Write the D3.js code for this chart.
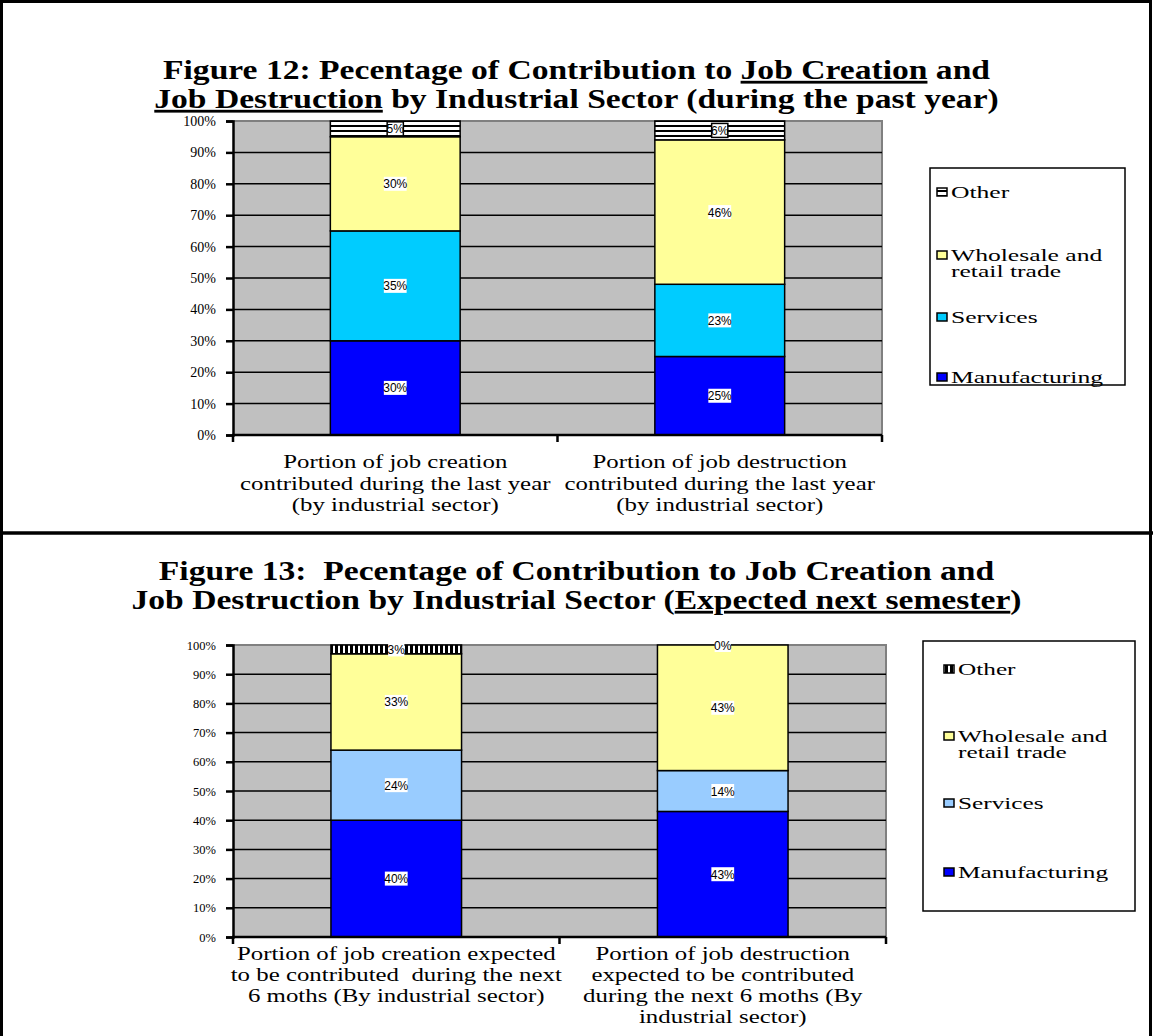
<!DOCTYPE html>
<html>
<head>
<meta charset="utf-8">
<script src="https://cdn.jsdelivr.net/npm/d3@7"></script>
<style>
  body { margin: 0; background: #fff; }
  svg { display: block; }
  text { white-space: pre; }
</style>
</head>
<body>
<svg id="chart" width="1153" height="1036"></svg>
<script>
// ---- data ----
const seriesNames = ["Manufacturing", "Services", "Wholesale and retail trade", "Other"];
const legendOrder = ["Other", "Wholesale and retail trade", "Services", "Manufacturing"];
const yTickValues = [0, 10, 20, 30, 40, 50, 60, 70, 80, 90, 100];

// Figure 12: during the past year
const fig12TitleLines = [
  [["Figure 12: Pecentage of Contribution to ", false], ["Job Creation", true], [" and", false]],
  [["Job Destruction", true], [" by Industrial Sector (during the past year)", false]]
];
const fig12Categories = [
  ["Portion of job creation", "contributed during the last year", "(by industrial sector)"],
  ["Portion of job destruction", "contributed during the last year", "(by industrial sector)"]
];
const fig12Manufacturing = [30, 25];
const fig12Services = [35, 23];
const fig12Wholesale = [30, 46];
const fig12Other = [5, 6];

// Figure 13: expected next semester
const fig13TitleLines = [
  [["Figure 13:  Pecentage of Contribution to Job Creation and", false]],
  [["Job Destruction by Industrial Sector (", false], ["Expected next semester", true], [")", false]]
];
const fig13Categories = [
  ["Portion of job creation expected", "to be contributed  during the next", "6 moths (By industrial sector)"],
  ["Portion of job destruction", "expected to be contributed", "during the next 6 moths (By", "industrial sector)"]
];
const fig13Manufacturing = [40, 43];
const fig13Services = [24, 14];
const fig13Wholesale = [33, 43];
const fig13Other = [3, 0];

// ---- drawing ----
const svg = d3.select("#chart");
const W = 1153, H = 1036;
const serif = "'Liberation Serif', 'Times New Roman', serif";
const sans = "'Liberation Sans', Arial, sans-serif";

// fill patterns for the "Other" segments
const defs = svg.append("defs");
const hp = defs.append("pattern").attr("id", "hstripe").attr("patternUnits", "userSpaceOnUse")
  .attr("width", 8).attr("height", 5);
hp.append("rect").attr("width", 8).attr("height", 5).attr("fill", "#fff");
hp.append("rect").attr("y", 0).attr("width", 8).attr("height", 2).attr("fill", "#000");

const vp = defs.append("pattern").attr("id", "vstripe").attr("patternUnits", "userSpaceOnUse")
  .attr("width", 5).attr("height", 8);
vp.append("rect").attr("width", 5).attr("height", 8).attr("fill", "#000");
vp.append("rect").attr("x", 3).attr("width", 2).attr("height", 8).attr("fill", "#fff");

// outer frame and panel separator
svg.append("rect").attr("x", 1.5).attr("y", 1.5).attr("width", W - 4).attr("height", H + 10)
  .attr("fill", "none").attr("stroke", "#000").attr("stroke-width", 3);
svg.append("line").attr("x1", 0).attr("x2", W).attr("y1", 533).attr("y2", 533)
  .attr("stroke", "#000").attr("stroke-width", 3.5);

function stretchedText(g, x, y, sx, size, weight, anchor) {
  return g.append("text")
    .attr("transform", `translate(${x},${y}) scale(${sx},1)`)
    .attr("text-anchor", anchor)
    .attr("font-family", serif)
    .attr("font-size", size)
    .attr("font-weight", weight)
    .attr("fill", "#000");
}

function drawPanel(cfg) {
  const g = svg.append("g");
  const series = [
    { name: "Manufacturing", values: cfg.manufacturing, fill: "#0000ff" },
    { name: "Services", values: cfg.services, fill: cfg.servicesColor },
    { name: "Wholesale and retail trade", values: cfg.wholesale, fill: "#ffff99" },
    { name: "Other", values: cfg.other, fill: `url(#${cfg.otherPattern})` }
  ];
  const fillOf = Object.fromEntries(series.map(s => [s.name, s.fill]));

  // title
  cfg.titleLines.forEach((parts, i) => {
    const t = stretchedText(g, W / 2, cfg.titleY + i * cfg.titleGap, cfg.titleSx, cfg.titleSize, "bold", "middle");
    parts.forEach(([txt, ul]) => {
      t.append("tspan").text(txt).attr("text-decoration", ul ? "underline" : null);
    });
  });

  const idx = cfg.categories.map((d, i) => i);
  const x = d3.scaleBand().domain(idx).range([cfg.x0, cfg.x1]).paddingInner(0.6).paddingOuter(0.3);
  const y = d3.scaleLinear().domain([0, 100]).range([cfg.y1, cfg.y0]);

  // plot area
  g.append("rect").attr("x", cfg.x0).attr("y", cfg.y0).attr("width", cfg.x1 - cfg.x0).attr("height", cfg.y1 - cfg.y0)
    .attr("fill", "#c0c0c0");
  g.append("path").attr("d", `M${cfg.x0},${cfg.y0}H${cfg.x1}V${cfg.y1}`)
    .attr("fill", "none").attr("stroke", "#808080").attr("stroke-width", 2);

  // gridlines
  g.selectAll(".grid").data(yTickValues.filter(v => v > 0 && v < 100)).join("line")
    .attr("x1", cfg.x0).attr("x2", cfg.x1)
    .attr("y1", d => y(d)).attr("y2", d => y(d))
    .attr("stroke", "#000").attr("stroke-width", 1.5);

  // stacked bars
  const stackData = idx.map(i => Object.fromEntries(series.map(s => [s.name, s.values[i]])));
  const stacked = d3.stack().keys(seriesNames)(stackData);
  stacked.forEach(layer => {
    g.selectAll(null).data(layer).join("rect")
      .attr("x", (d, i) => x(i))
      .attr("width", x.bandwidth())
      .attr("y", d => y(d[1]))
      .attr("height", d => y(d[0]) - y(d[1]))
      .attr("fill", fillOf[layer.key])
      .attr("stroke", "#000").attr("stroke-width", 1.5);
  });

  // data labels
  stacked.forEach(layer => {
    layer.forEach((d, i) => {
      const v = d[1] - d[0];
      const cx = x(i) + x.bandwidth() / 2;
      const cy = (y(d[0]) + y(d[1])) / 2;
      const label = v + "%";
      const tw = label.length * 6.6 + 3;
      g.append("rect").attr("x", cx - tw / 2).attr("y", cy - 7).attr("width", tw).attr("height", 14)
        .attr("fill", "#fff")
        .attr("stroke", layer.key === "Other" && cfg.otherLabelBorder ? "#000" : "none")
        .attr("stroke-width", 1.5);
      g.append("text").attr("x", cx).attr("y", cy + 4.5).attr("text-anchor", "middle")
        .attr("font-family", sans).attr("font-size", 12).attr("fill", "#000").text(label);
    });
  });

  // y axis
  const yAxis = d3.axisLeft(y).tickValues(yTickValues).tickSize(7).tickPadding(8).tickFormat(d => d + "%");
  const ya = g.append("g").attr("transform", `translate(${cfg.x0},0)`).call(yAxis)
    .attr("font-family", serif).attr("font-size", cfg.yFontSize);
  ya.select(".domain").attr("stroke", "#000").attr("stroke-width", 2.5);
  ya.selectAll(".tick line").attr("stroke", "#000").attr("stroke-width", 2.5);
  ya.selectAll(".tick text").attr("font-family", serif).attr("font-size", cfg.yFontSize)
    .attr("fill", "#000").attr("dx", -2);

  // x axis: ticks at category boundaries
  g.append("line").attr("x1", cfg.x0 - 1).attr("x2", cfg.x1).attr("y1", cfg.y1).attr("y2", cfg.y1)
    .attr("stroke", "#000").attr("stroke-width", 2.5);
  const step = x.step();
  const boundaries = idx.map(i => x(i) - step * 0.3).concat([cfg.x1]);
  g.selectAll(null).data(boundaries).join("line")
    .attr("x1", d => d).attr("x2", d => d).attr("y1", cfg.y1).attr("y2", cfg.y1 + 7)
    .attr("stroke", "#000").attr("stroke-width", 2.5);

  // category labels
  cfg.categories.forEach((lines, i) => {
    lines.forEach((ln, j) => {
      stretchedText(g, x(i) + x.bandwidth() / 2, cfg.catY + j * cfg.catGap, cfg.catSx, cfg.catSize, "normal", "middle").text(ln);
    });
  });

  // legend
  const L = cfg.legend;
  g.append("rect").attr("x", L.x).attr("y", L.y).attr("width", L.w).attr("height", L.h)
    .attr("fill", "#fff").attr("stroke", "#000").attr("stroke-width", 1.5);
  legendOrder.forEach((name, k) => {
    const iy = L.itemY[k];
    g.append("rect").attr("x", L.x + L.swatchDx).attr("y", iy - 10).attr("width", 10).attr("height", 8)
      .attr("fill", fillOf[name]).attr("stroke", "#000").attr("stroke-width", 1.5);
    const words = name === "Wholesale and retail trade" ? ["Wholesale and", "retail trade"] : [name];
    words.forEach((w, j) => {
      stretchedText(g, L.x + L.swatchDx + 14, iy + j * L.lineGap, L.sx, L.size, "normal", "start").text(w);
    });
  });
}

drawPanel({
  titleLines: fig12TitleLines, titleY: 79, titleGap: 29, titleSize: 28, titleSx: 1.2,
  categories: fig12Categories, catY: 468, catGap: 21.5, catSize: 18, catSx: 1.38,
  manufacturing: fig12Manufacturing, services: fig12Services, wholesale: fig12Wholesale, other: fig12Other,
  servicesColor: "#00ccff", otherPattern: "hstripe", otherLabelBorder: true,
  x0: 233, x1: 882, y0: 121, y1: 435, yFontSize: 14,
  legend: { x: 930, y: 168, w: 195, h: 217, itemY: [198, 261, 323, 383], lineGap: 16, size: 16, sx: 1.6, swatchDx: 7 }
});

drawPanel({
  titleLines: fig13TitleLines, titleY: 580, titleGap: 29, titleSize: 28, titleSx: 1.2,
  categories: fig13Categories, catY: 960, catGap: 21, catSize: 18, catSx: 1.38,
  manufacturing: fig13Manufacturing, services: fig13Services, wholesale: fig13Wholesale, other: fig13Other,
  servicesColor: "#99ccff", otherPattern: "vstripe", otherLabelBorder: false,
  x0: 233, x1: 886, y0: 645, y1: 937, yFontSize: 12.5,
  legend: { x: 923, y: 641, w: 212, h: 270, itemY: [675, 742, 809, 878], lineGap: 16, size: 16, sx: 1.58, swatchDx: 21 }
});
</script>
</body>
</html>
